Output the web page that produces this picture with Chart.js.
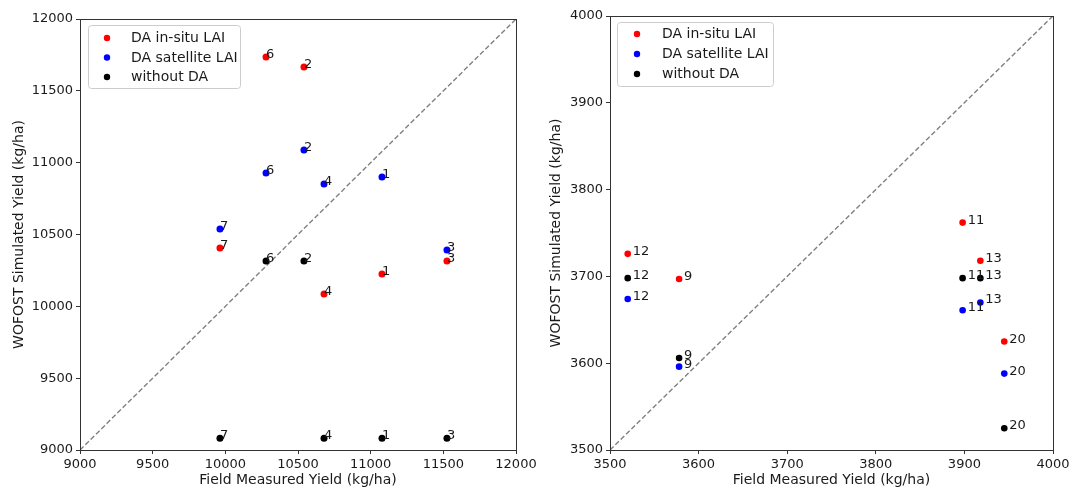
<!DOCTYPE html>
<html>
<head>
<meta charset="utf-8">
<script src="https://cdn.jsdelivr.net/npm/chart.js@4.4.0/dist/chart.umd.min.js"></script>
<style>
  html,body{margin:0;padding:0;background:#fff;}
  #wrap{position:relative;width:1074px;height:490px;overflow:hidden;}
  .box{position:absolute;top:0;width:537px;height:490px;}
</style>
</head>
<body>
<div id="wrap">
  <div class="box" style="left:0"><canvas id="c1" width="537" height="490"></canvas></div>
  <div class="box" style="left:537px"><canvas id="c2" width="537" height="490"></canvas></div>
</div>
<script>
// ---------- Data (left panel) ----------
const leftFields   = ['1', '2', '3', '4', '6', '7'];
const leftMeasured = [11078, 10541, 11525, 10679, 10280, 9963];
const leftInsitu   = [10225, 11666, 10316, 10086, 11735, 10406];
const leftSat      = [10900, 11088, 10392, 10852, 10928, 10538];
const leftNoDA     = [9082, 10316, 9082, 9082, 10316, 9082];
const leftTicks    = [9000, 9500, 10000, 10500, 11000, 11500, 12000];

// ---------- Data (right panel) ----------
const rightFields   = ['9', '11', '12', '13', '20'];
const rightMeasured = [3578, 3898, 3520, 3918, 3945];
const rightInsitu   = [3697, 3762, 3726, 3718, 3625];
const rightSat      = [3596, 3661, 3674, 3670, 3588];
const rightNoDA     = [3606, 3698, 3698, 3698, 3525];
const rightTicks    = [3500, 3600, 3700, 3800, 3900, 4000];

const seriesNames = ['DA in-situ LAI', 'DA satellite LAI', 'without DA'];
const seriesColors = ['#ff0000', '#0000ff', '#000000'];

const FONT = 'DejaVu Sans';
const TXT = '#1a1a1a';

function pts(xs, ys) { return xs.map((x, i) => ({x: x, y: ys[i]})); }

const framePlugin = {
  id: 'frame',
  afterDraw(chart) {
    const a = chart.chartArea, ctx = chart.ctx;
    ctx.save();
    ctx.strokeStyle = '#333';
    ctx.lineWidth = 1;
    ctx.strokeRect(Math.round(a.left) + 0.5, Math.round(a.top) + 0.5,
                   Math.round(a.right - a.left), Math.round(a.bottom - a.top));
    ctx.restore();
  }
};

const labelPlugin = {
  id: 'pointLabels',
  afterDatasetsDraw(chart, args, opts) {
    const ctx = chart.ctx;
    ctx.save();
    ctx.font = opts.size + 'px "' + FONT + '"';
    ctx.fillStyle = TXT;
    ctx.textAlign = 'left';
    ctx.textBaseline = 'alphabetic';
    chart.data.datasets.forEach((ds, di) => {
      if (!ds.pointLabels) return;
      const meta = chart.getDatasetMeta(di);
      meta.data.forEach((el, i) => {
        ctx.fillText(ds.pointLabels[i], el.x + opts.dx, el.y + opts.dy);
      });
    });
    ctx.restore();
  }
};

const legendPlugin = {
  id: 'innerLegend',
  afterDraw(chart, args, o) {
    const ctx = chart.ctx;
    const a = chart.chartArea;
    const x0 = a.left + o.x, y0 = a.top + o.y;
    ctx.save();
    ctx.globalAlpha = 0.8;
    ctx.fillStyle = '#fff';
    ctx.strokeStyle = '#cccccc';
    ctx.lineWidth = 1;
    ctx.beginPath();
    if (ctx.roundRect) ctx.roundRect(x0 + 0.5, y0 + 0.5, o.w, o.h, 3);
    else ctx.rect(x0 + 0.5, y0 + 0.5, o.w, o.h);
    ctx.fill();
    ctx.globalAlpha = 1;
    ctx.stroke();
    ctx.font = '14px "' + FONT + '"';
    ctx.textBaseline = 'middle';
    ctx.textAlign = 'left';
    seriesNames.forEach((n, i) => {
      const cy = y0 + o.firstRow + i * o.rowGap;
      ctx.fillStyle = seriesColors[i];
      ctx.beginPath();
      ctx.arc(x0 + o.markerX, cy, 3.2, 0, Math.PI * 2);
      ctx.fill();
      ctx.fillStyle = TXT;
      ctx.fillText(n, x0 + o.textX, cy + 0.5);
    });
    ctx.restore();
  }
};

function makeChart(id, cfg) {
  const datasets = [];
  datasets.push({
    type: 'line',
    data: [{x: cfg.min, y: cfg.min}, {x: cfg.max, y: cfg.max}],
    borderColor: '#808080',
    borderWidth: 1.4,
    borderDash: [5, 2.5],
    pointRadius: 0,
    fill: false,
    order: 10
  });
  const ys = [cfg.insitu, cfg.sat, cfg.noda];
  ys.forEach((arr, i) => {
    datasets.push({
      type: 'scatter',
      label: seriesNames[i],
      data: pts(cfg.measured, arr),
      backgroundColor: seriesColors[i],
      borderColor: seriesColors[i],
      borderWidth: 0,
      pointRadius: cfg.r,
      pointHoverRadius: cfg.r,
      pointLabels: cfg.fields,
      order: 3 - i
    });
  });
  const tickFmt = v => String(v);
  return new Chart(document.getElementById(id), {
    type: 'scatter',
    data: {datasets: datasets},
    plugins: [framePlugin, labelPlugin, legendPlugin],
    options: {
      responsive: false,
      animation: false,
      events: [],
      layout: {padding: {top: cfg.top, right: 21, left: 0, bottom: 0}},
      plugins: {
        legend: {display: false},
        tooltip: {enabled: false},
        pointLabels: {size: 13, dx: cfg.ldx, dy: cfg.ldy},
        innerLegend: cfg.legend
      },
      scales: {
        x: {
          type: 'linear', min: cfg.min, max: cfg.max,
          afterFit(s) { s.height = 40; s.paddingLeft = 0; s.paddingRight = 0; },
          afterBuildTicks(s) { s.ticks = cfg.ticks.map(v => ({value: v})); },
          grid: {display: true, drawOnChartArea: false, drawTicks: true, tickLength: 4, color: '#333'},
          border: {display: false},
          ticks: {color: TXT, font: {family: FONT, size: 13}, padding: 3, maxRotation: 0, autoSkip: false, callback: tickFmt},
          title: {display: true, text: 'Field Measured Yield (kg/ha)', color: TXT,
                  font: {family: FONT, size: 14}, padding: {top: 0, bottom: 1}}
        },
        y: {
          type: 'linear', min: cfg.min, max: cfg.max,
          afterFit(s) { s.width = cfg.yw; s.paddingTop = 0; s.paddingBottom = 0; },
          afterBuildTicks(s) { s.ticks = cfg.ticks.map(v => ({value: v})); },
          grid: {display: true, drawOnChartArea: false, drawTicks: true, tickLength: 4, color: '#333'},
          border: {display: false},
          ticks: {color: TXT, font: {family: FONT, size: 13}, padding: 3, autoSkip: false, callback: tickFmt},
          title: {display: true, text: 'WOFOST Simulated Yield (kg/ha)', color: TXT,
                  font: {family: FONT, size: 14}, padding: {top: cfg.ytp, bottom: 0}}
        }
      }
    }
  });
}

makeChart('c1', {
  min: 9000, max: 12000, ticks: leftTicks, fields: leftFields,
  measured: leftMeasured, insitu: leftInsitu, sat: leftSat, noda: leftNoDA,
  top: 19, yw: 80, ytp: 11, r: 3.5, ldx: 0, ldy: 1,
  legend: {x: 8, y: 6, w: 152, h: 63, markerX: 19, textX: 43, firstRow: 13, rowGap: 19.5}
});

makeChart('c2', {
  min: 3500, max: 4000, ticks: rightTicks, fields: rightFields,
  measured: rightMeasured, insitu: rightInsitu, sat: rightSat, noda: rightNoDA,
  top: 16, yw: 73, ytp: 11, r: 3.3, ldx: 5, ldy: 1,
  legend: {x: 7, y: 6, w: 156, h: 64, markerX: 20, textX: 45, firstRow: 12, rowGap: 20}
});
</script>
</body>
</html>
